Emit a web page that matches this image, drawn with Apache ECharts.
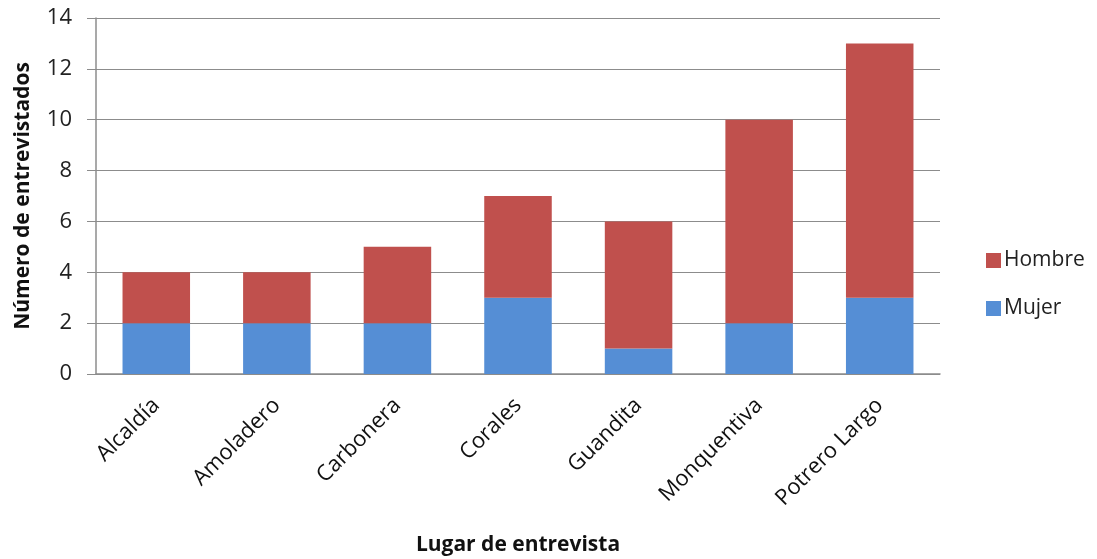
<!DOCTYPE html>
<html>
<head>
<meta charset="utf-8">
<script src="https://cdn.jsdelivr.net/npm/echarts@6/dist/echarts.min.js"></script>
<style>html,body{margin:0;padding:0;background:#fff}#c{width:1097px;height:559px}</style>
</head>
<body>
<div id="c"></div>
<script>
const categories = ['Alcaldía','Amoladero','Carbonera','Corales','Guandita','Monquentiva','Potrero Largo'];
const mujer = [2, 2, 2, 3, 1, 2, 3];
const hombre = [2, 2, 3, 4, 5, 8, 10];
const yTicks = [0, 2, 4, 6, 8, 10, 12, 14];

const font = "'Open Sans', 'Liberation Sans', sans-serif";
const chart = echarts.init(document.getElementById('c'));
chart.setOption({
  animation: false,
  textStyle: { fontFamily: font },
  grid: { left: 96, right: 157, top: 18, bottom: 185, containLabel: false, outerBoundsMode: 'none' },
  legend: {
    orient: 'vertical',
    left: 981, top: 245,
    itemWidth: 15, itemHeight: 15, itemGap: 27,
    icon: 'rect',
    data: ['Hombre', 'Mujer'],
    textStyle: { fontSize: 21, color: '#222', fontFamily: font, padding: [0, 0, 0, -2] }
  },
  xAxis: {
    type: 'category',
    data: categories,
    name: 'Lugar de entrevista',
    nameLocation: 'middle',
    nameGap: 161,
    nameTextStyle: { fontSize: 21, fontWeight: 'bold', color: '#111', fontFamily: font },
    axisLine: { lineStyle: { color: '#8c8c8c', width: 1.5 } },
    axisTick: { show: false },
    axisLabel: { rotate: 45, fontSize: 22, color: '#111', margin: 28, fontFamily: font }
  },
  yAxis: {
    type: 'value',
    min: 0, max: 14, interval: 2,
    name: 'Número de entrevistados',
    nameLocation: 'middle',
    nameGap: 62,
    nameTextStyle: { fontSize: 21, fontWeight: 'bold', color: '#111', fontFamily: font },
    axisLine: { show: true, lineStyle: { color: '#8c8c8c', width: 1.5 } },
    axisTick: { show: true, length: 9, lineStyle: { color: '#8c8c8c' } },
    axisLabel: { fontSize: 22, color: '#222', margin: 24, fontFamily: font,
      formatter: v => yTicks.includes(v) ? String(v) : '' },
    splitLine: { lineStyle: { color: '#8c8c8c', width: 1 } }
  },
  series: [
    { name: 'Mujer', type: 'bar', stack: 'total', data: mujer, barWidth: '56%',
      itemStyle: { color: '#558ED5' } },
    { name: 'Hombre', type: 'bar', stack: 'total', data: hombre, barWidth: '56%',
      itemStyle: { color: '#C0504D' } }
  ]
});
</script>
</body>
</html>
